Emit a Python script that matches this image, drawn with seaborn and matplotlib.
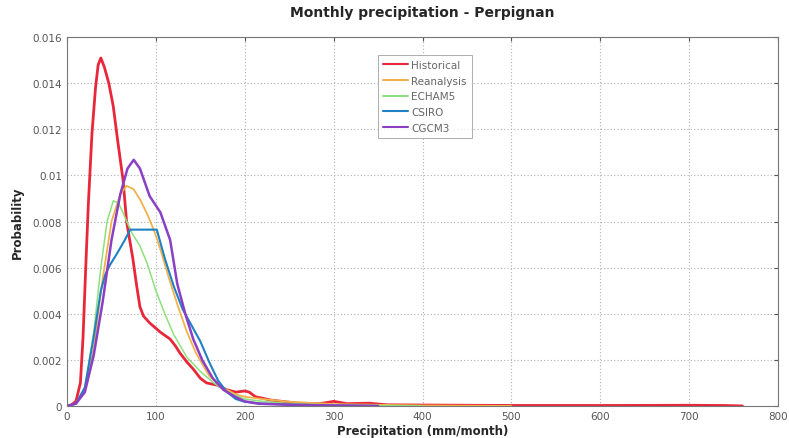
import numpy as np
import pandas as pd
import matplotlib
matplotlib.use("Agg")
import matplotlib.pyplot as plt
import seaborn as sns

series_names = ["Historical", "Reanalysis", "ECHAM5", "CSIRO", "CGCM3"]

hist_x = [0, 5, 10, 15, 18, 21, 24, 28, 32, 35, 38, 42, 47, 52, 57, 63, 67, 74, 78, 82, 86, 93, 105, 116, 122, 127, 135, 142, 150, 157, 169, 180, 190, 200, 205, 212, 230, 260, 285, 300, 315, 340, 360, 400, 450, 500, 600, 700, 740, 760]
hist_y = [0, 0.00005, 0.0002, 0.001, 0.003, 0.006, 0.0088, 0.0118, 0.0138, 0.0148, 0.0151, 0.0147, 0.0140, 0.0130, 0.0115, 0.0098, 0.0080, 0.0064, 0.0053, 0.0043, 0.0039, 0.0036, 0.0032, 0.0029, 0.0026, 0.0023, 0.0019, 0.0016, 0.0012, 0.0010, 0.0009, 0.0007, 0.0006, 0.00065, 0.0006, 0.0004, 0.00025, 0.00012, 0.0001, 0.0002, 0.0001, 0.00012, 0.00005, 0.00004, 0.00003, 0.00002, 0.00002, 0.00003, 0.00002, 0]

rean_x = [0, 10, 20, 30, 40, 50, 60, 67, 75, 83, 91, 98, 105, 115, 125, 135, 145, 160, 175, 190, 200, 220, 250, 300, 400, 500]
rean_y = [0, 0.0001, 0.0007, 0.0025, 0.0055, 0.0080, 0.0092, 0.00955, 0.0094, 0.0089, 0.00825, 0.0076, 0.0068, 0.0055, 0.0043, 0.0032, 0.0023, 0.0013, 0.0008, 0.0005, 0.0004, 0.0003, 0.00018, 0.00008, 0.00002, 0]

echam_x = [0, 10, 20, 30, 38, 45, 52, 58, 65, 73, 82, 90, 100, 110, 120, 135, 150, 165, 180, 200, 220, 250, 300, 400]
echam_y = [0, 0.0001, 0.0008, 0.0032, 0.0060, 0.0080, 0.0089, 0.0088, 0.0082, 0.0075, 0.00695, 0.0062, 0.0050, 0.0040, 0.0031, 0.0021, 0.0015, 0.0010, 0.0006, 0.0003, 0.0002, 0.0001, 0.00004, 0]

csiro_x = [0, 10, 20, 30, 38, 43, 48, 56, 65, 71, 101, 110, 120, 130, 140, 150, 160, 170, 180, 190, 200, 220, 260, 300, 350]
csiro_y = [0, 0.0001, 0.0008, 0.0030, 0.0050, 0.0057, 0.0061, 0.0066, 0.0072, 0.00765, 0.00765, 0.0064, 0.0052, 0.0042, 0.0035, 0.0028, 0.0019, 0.0011, 0.0006, 0.0003, 0.00018, 0.0001, 0.00005, 0.00002, 0]

cgcm_x = [0, 10, 20, 30, 40, 50, 60, 68, 75, 82, 93, 105, 116, 124, 133, 142, 152, 164, 176, 189, 200, 215, 250, 300, 350]
cgcm_y = [0, 0.0001, 0.0006, 0.0022, 0.0045, 0.0072, 0.0092, 0.0103, 0.01068, 0.0103, 0.0091, 0.0084, 0.0072, 0.0053, 0.0040, 0.0029, 0.0020, 0.0012, 0.0007, 0.0004, 0.0002, 0.0001, 0.00005, 0.00002, 0]

xs = [hist_x, rean_x, echam_x, csiro_x, cgcm_x]
ys = [hist_y, rean_y, echam_y, csiro_y, cgcm_y]

frames = []
for name, x, y in zip(series_names, xs, ys):
    frames.append(pd.DataFrame({"x": x, "y": y, "series": name}))
df = pd.concat(frames, ignore_index=True)

colors = {"Historical": "#e8283a", "Reanalysis": "#f2b24a", "ECHAM5": "#8ee07e",
          "CSIRO": "#2080c4", "CGCM3": "#8a3fc4"}
widths = {"Historical": 2.0, "Reanalysis": 1.3, "ECHAM5": 1.1, "CSIRO": 1.5, "CGCM3": 1.8}

sns.set_style("white")
plt.rcParams['font.family'] = ['DejaVu Sans']

fig = plt.figure(figsize=(7.89, 4.39), dpi=100)
ax = fig.add_axes([0.085, 0.073, 0.901, 0.840])

sns.lineplot(data=df, x="x", y="y", hue="series", hue_order=series_names,
             palette=colors, ax=ax, sort=False, estimator=None)
for line, name in zip(ax.get_lines(), series_names):
    line.set_linewidth(widths[name])

ax.set_xlim(0, 800)
ax.set_ylim(0, 0.016)
ax.set_xticks(range(0, 801, 100))
ax.set_yticks([0, 0.002, 0.004, 0.006, 0.008, 0.01, 0.012, 0.014, 0.016])
ax.set_yticklabels(["0", "0.002", "0.004", "0.006", "0.008", "0.01", "0.012", "0.014", "0.016"])
ax.tick_params(direction="in", labelsize=7.5, colors="#555555", length=3, top=True, right=True)
ax.grid(True, linestyle=(0, (1, 2)), color="#b0b0b0", linewidth=0.8)
for s in ax.spines.values():
    s.set_color("#777777")
    s.set_linewidth(0.8)

ax.set_title("Monthly precipitation - Perpignan", fontsize=10, fontweight="bold", pad=15)
ax.set_xlabel("Precipitation (mm/month)", fontsize=8.5, fontweight="bold", labelpad=2)
ax.set_ylabel("Probability", fontsize=8.5, fontweight="bold", labelpad=6)

leg = ax.legend(loc="upper left", bbox_to_anchor=(0.430, 0.967), fontsize=7.5,
                frameon=True, fancybox=False, handlelength=2.4, handletextpad=0.3,
                borderpad=0.5, labelspacing=0.55)
leg.get_frame().set_edgecolor("#999999")
leg.get_frame().set_linewidth(0.7)
for t in leg.get_texts():
    t.set_color("#666666")

fig.savefig("out.png", dpi=100)
